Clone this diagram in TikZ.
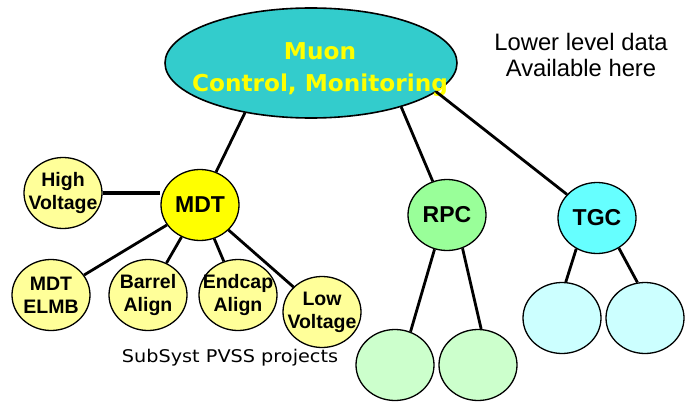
\documentclass[tikz,border=0pt]{standalone}
\usepackage{fontspec}
\setmainfont{Liberation Sans}
\newfontfamily\comicfont{DejaVu Sans}
\newfontfamily\comicwide[FakeStretch=1.1]{DejaVu Sans}
\usetikzlibrary{shapes.geometric}
\definecolor{muonfill}{HTML}{33CCCC}
\definecolor{mdtfill}{HTML}{FFFF00}
\definecolor{subfill}{HTML}{FFFF99}
\definecolor{rpcfill}{HTML}{99FF99}
\definecolor{rpcsub}{HTML}{CCFFCC}
\definecolor{tgcfill}{HTML}{66FFFF}
\definecolor{tgcsub}{HTML}{CCFFFF}

\begin{document}
\begin{tikzpicture}[x=1pt,y=-1pt,
	bubble/.style={ellipse,draw,line width=1.3pt,inner sep=0pt,inner xsep=-8pt,minimum width=78pt,minimum height=71pt,align=center,font=\fontsize{19.5}{23}\selectfont\bfseries},
	bigbubble/.style={bubble,font=\fontsize{23}{26}\selectfont\bfseries},
	link/.style={line width=2.8pt}]
			\useasboundingbox (0,0) rectangle (692,404);

			\node [ellipse,draw,line width=1.6pt,fill=muonfill,minimum width=292pt,minimum height=110pt,inner sep=0pt](muon) at (311,63) {};
			\node [align=center,text=mdtfill,font=\comicfont\fontsize{23.2}{32}\selectfont\bfseries](title) at (320,70) {Muon\\Control, Monitoring};
			\node [align=center,font=\fontsize{23.8}{26}\selectfont](note) at (581,55) {Lower level data\\Available here};

			\node [bigbubble,fill=mdtfill](mdt) at (200,205) {MDT};
			\node [bubble,fill=subfill](hv) at (63,193) {High\\Voltage};
			\node [bubble,fill=subfill](elmb) at (51,295) {MDT\\ELMB};
			\node [bubble,fill=subfill](barrel) at (148,295) {Barrel\\Align};
			\node [bubble,fill=subfill](endcap) at (238,295) {Endcap\\Align};
			\node [bubble,fill=subfill](lv) at (322,312) {Low\\Voltage};
			\node [font=\comicwide\fontsize{17.5}{20}\selectfont](pvss) at (230,358) {SubSyst PVSS projects};

			\node [bigbubble,fill=rpcfill](rpc) at (447,215) {RPC};
			\node [bubble,fill=rpcsub](rpca) at (395,365) {};
			\node [bubble,fill=rpcsub](rpcb) at (478,365) {};

			\node [bigbubble,fill=tgcfill](tgc) at (597,218) {TGC};
			\node [bubble,fill=tgcsub](tgca) at (562,318) {};
			\node [bubble,fill=tgcsub](tgcb) at (645,318) {};

			\draw [link](muon.217) -- (mdt);
			\draw [link](muon.-26) -- (rpc);
			\draw [link](muon.-13) -- (tgc);

			\draw [link,line width=3.4pt](hv) -- (mdt.west |- hv);
			\draw [link](mdt) -- (elmb);
			\draw [link](mdt) -- (barrel);
			\draw [link](mdt) -- (endcap);
			\draw [link](mdt) -- (lv);

			\draw [link](rpc.-110) -- (rpca.65);
			\draw [link](rpc.-65) -- (rpcb.85);

			\draw [link](tgc.-124) -- (tgca.84);
			\draw [link](tgc.-54) -- (tgcb.102);

		\end{tikzpicture}
\end{document}
